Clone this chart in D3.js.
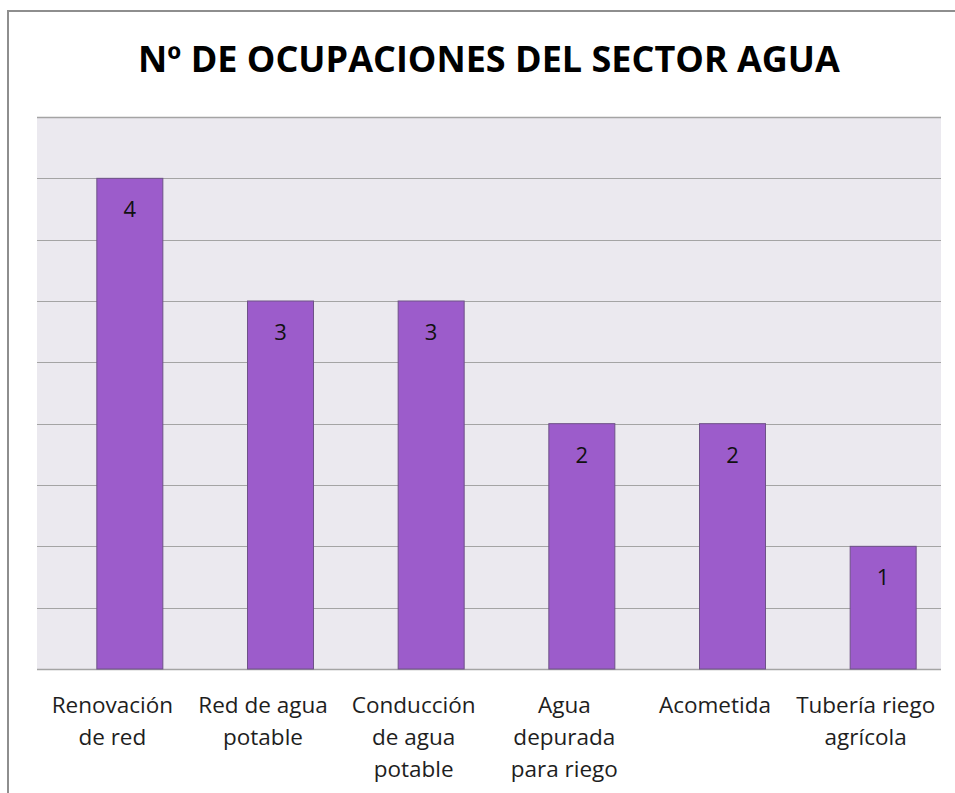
<!DOCTYPE html>
<html>
<head>
<meta charset="utf-8">
<script src="https://cdn.jsdelivr.net/npm/d3@7"></script>
<style>
  body { margin: 0; background: #fff; }
  svg { display: block; }
</style>
</head>
<body>
<svg width="955" height="793"></svg>
<script>
// chart data
const categories = ["Renovación de red", "Red de agua potable", "Conducción de agua potable",
  "Agua depurada para riego", "Acometida", "Tubería riego agrícola"];
const labelLines = [
  ["Renovación", "de red"],
  ["Red de agua", "potable"],
  ["Conducción", "de agua", "potable"],
  ["Agua", "depurada", "para riego"],
  ["Acometida"],
  ["Tubería riego", "agrícola"]
];
const values = [4, 3, 3, 2, 2, 1];
const gridTicks = [0, 0.5, 1, 1.5, 2, 2.5, 3, 3.5, 4, 4.5];
const title = "Nº DE OCUPACIONES DEL SECTOR AGUA";

const svg = d3.select("svg");
const plot = {left: 37, right: 941, top: 117, bottom: 669};
const font = "'Open Sans', sans-serif";

// outer frame (only top and left edges are visible)
svg.append("path")
  .attr("d", "M8,800 L8,11 L960,11")
  .attr("fill", "none")
  .attr("stroke", "#8e8e8e")
  .attr("stroke-width", 2);

const x = d3.scaleBand().domain(categories).range([plot.left, plot.right]);
const y = d3.scaleLinear().domain([0, 4.5]).range([plot.bottom, plot.top]);

// plot background
svg.append("rect")
  .attr("x", plot.left).attr("y", plot.top)
  .attr("width", plot.right - plot.left).attr("height", plot.bottom - plot.top)
  .attr("fill", "#ebe9ef");

// gridlines
svg.append("g")
  .selectAll("line")
  .data(gridTicks)
  .join("line")
  .attr("x1", plot.left).attr("x2", plot.right)
  .attr("y1", d => Math.round(y(d)) + 0.5)
  .attr("y2", d => Math.round(y(d)) + 0.5)
  .attr("stroke", "#a4a4a4")
  .attr("stroke-width", d => d == 0 || d == 4.5 ? 1.5 : 1);

// bars sit a bit right of the label centre, like in the original
const barW = 66;
const barShift = 17.5;
const barX = c => x(c) + x.bandwidth() / 2 + barShift - barW / 2;

svg.append("g")
  .selectAll("rect")
  .data(values)
  .join("rect")
  .attr("x", (d, i) => barX(categories[i]))
  .attr("y", d => y(d))
  .attr("width", barW)
  .attr("height", d => y(0) - y(d))
  .attr("fill", "#9c5ccb")
  .attr("stroke", "#6e5287")
  .attr("stroke-width", 1);

// value labels inside the top of the bar
svg.append("g")
  .selectAll("text")
  .data(values)
  .join("text")
  .attr("x", (d, i) => barX(categories[i]) + barW / 2)
  .attr("y", d => y(d) + 39)
  .attr("text-anchor", "middle")
  .attr("font-family", font)
  .attr("font-size", 22)
  .attr("fill", "#111")
  .text(d => d);

// category labels (wrapped)
const catG = svg.append("g")
  .selectAll("text")
  .data(categories)
  .join("text")
  .attr("text-anchor", "middle")
  .attr("font-family", font)
  .attr("font-size", 22.5)
  .attr("fill", "#1e1e1e");

catG.each(function(c, i) {
  d3.select(this).selectAll("tspan")
    .data(labelLines[i])
    .join("tspan")
    .attr("x", x(c) + x.bandwidth() / 2)
    .attr("y", (d, j) => 713 + j * 32)
    .text(d => d);
});

// title, sized to the original width
const t = svg.append("text")
  .attr("x", 489)
  .attr("y", 72)
  .attr("text-anchor", "middle")
  .attr("font-family", font)
  .attr("font-weight", "bold")
  .attr("font-size", 32)
  .attr("fill", "#000")
  .text(title);
const tw = t.node().getComputedTextLength();
t.attr("font-size", 32 * 702 / tw);
</script>
</body>
</html>
